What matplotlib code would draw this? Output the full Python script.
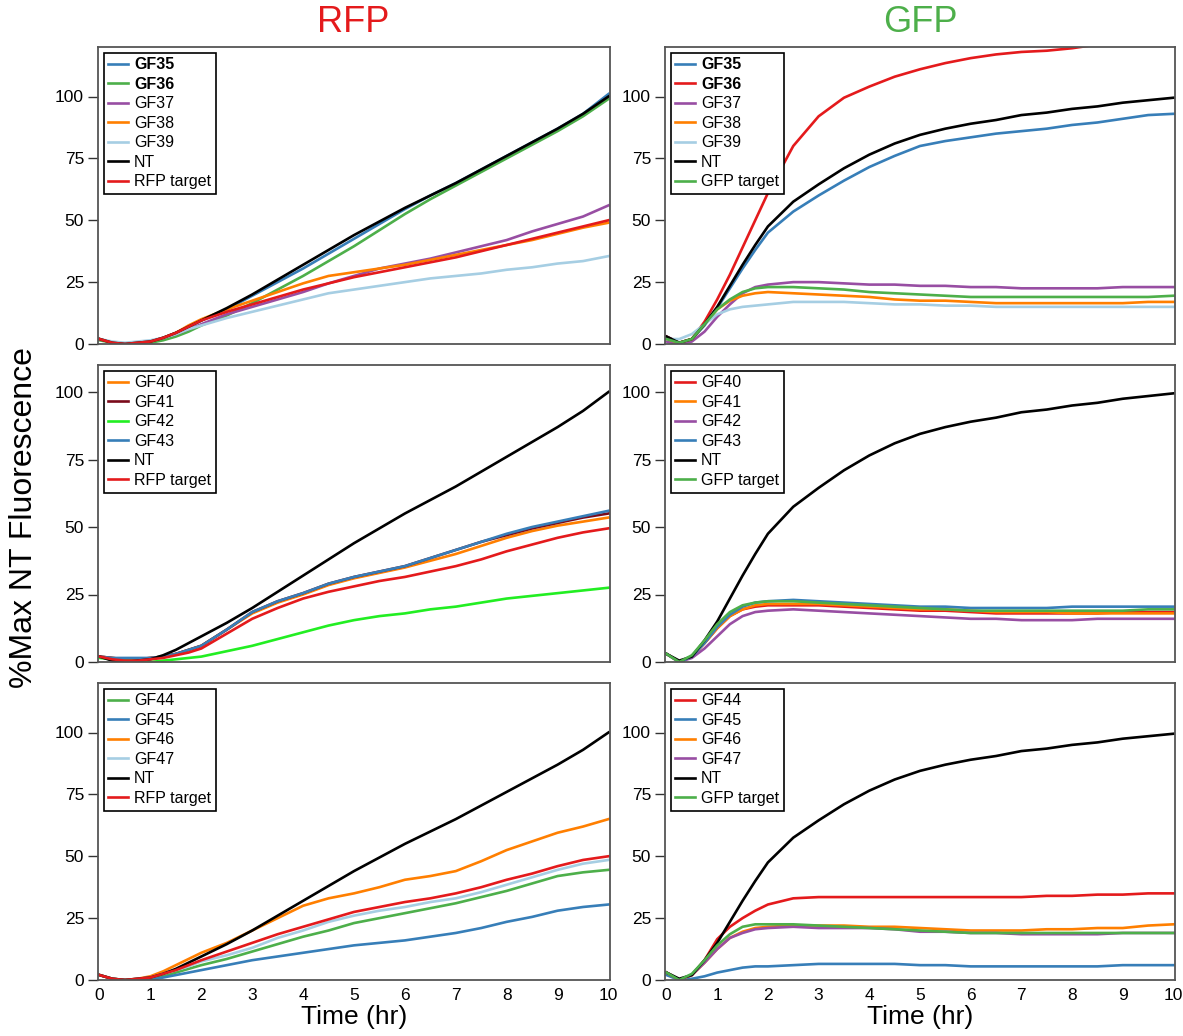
import matplotlib
matplotlib.use("Agg")
import matplotlib.pyplot as plt

plt.rcParams['font.family'] = ['Liberation Sans', 'DejaVu Sans']

# ---------------- data ----------------
t = [0, 0.25, 0.5, 0.75, 1, 1.25, 1.5, 1.75, 2, 2.5, 3, 3.5, 4, 4.5, 5,
     5.5, 6, 6.5, 7, 7.5, 8, 8.5, 9, 9.5, 10]

nt_rfp = [2, 0.5, 0, 0.5, 1, 2.5, 4.5, 7, 9.5, 14.5, 20, 26, 32, 38, 44, 49.5, 55, 60, 65, 70.5, 76, 81.5, 87, 93, 100]
nt_gfp = [3, 0.5, 2, 8, 15, 23.5, 32, 40, 47.5, 57.5, 64.5, 71, 76.5, 81, 84.5, 87, 89, 90.5, 92.5, 93.5, 95, 96, 97.5, 98.5, 99.5]

# row 1 RFP
r1_gf35 = [2, 0.5, 0, 0.5, 1, 2.5, 4.5, 7, 9.5, 14, 19.5, 25, 30.5, 36.5, 42.5, 48.5, 54.5, 60, 65, 70.5, 76, 81.5, 87, 93, 101]
r1_gf36 = [1.5, 0.5, 0, 0, 0.5, 1.5, 3, 5, 7.5, 11.5, 16.5, 22, 27.5, 33.5, 39.5, 46, 52.5, 58.5, 64, 69.5, 75, 80.5, 86, 92, 99]
r1_gf37 = [2, 0.5, 0, 0.5, 1, 2.5, 4, 6, 8, 12, 15, 18, 21, 24.5, 27.5, 30.5, 32.5, 34.5, 37, 39.5, 42, 45.5, 48.5, 51.5, 56]
r1_gf38 = [2, 0.5, 0, 0.5, 1, 2.5, 4.5, 7.5, 10, 14, 17.5, 21, 24.5, 27.5, 29, 30.5, 32, 34, 36, 38, 40, 42, 44.5, 47, 49]
r1_gf39 = [2, 1, 0.5, 1, 1.5, 2.5, 4, 6, 7.5, 10.5, 13, 15.5, 18, 20.5, 22, 23.5, 25, 26.5, 27.5, 28.5, 30, 31, 32.5, 33.5, 35.5]
r1_rfp_target = [2, 0.5, 0, 0.5, 1, 2.5, 4.5, 7, 9.5, 13, 16, 19, 22, 24.5, 27, 29, 31, 33, 35, 37.5, 40, 42.5, 45, 47.5, 50]

# row 1 GFP
g1_gf35 = [3, 0.5, 2, 7.5, 14.5, 22.5, 30.5, 38, 45, 53.5, 60, 66, 71.5, 76, 80, 82, 83.5, 85, 86, 87, 88.5, 89.5, 91, 92.5, 93]
g1_gf36 = [3, 0.5, 2, 9, 18, 28, 39, 50, 61, 80, 92, 99.5, 104, 108, 111, 113.5, 115.5, 117, 118, 118.5, 119.5, 121, 122, 123, 124]
g1_gf37 = [1, 0, 1, 5, 11, 16, 20.5, 23, 24, 25, 25, 24.5, 24, 24, 23.5, 23.5, 23, 23, 22.5, 22.5, 22.5, 22.5, 23, 23, 23]
g1_gf38 = [2, 0.5, 2, 8, 14, 17.5, 19.5, 20.5, 21, 20.5, 20, 19.5, 19, 18, 17.5, 17.5, 17, 16.5, 16.5, 16.5, 16.5, 16.5, 16.5, 17, 17]
g1_gf39 = [2, 2, 4, 8, 12, 14, 15, 15.5, 16, 17, 17, 17, 16.5, 16, 16, 15.5, 15.5, 15, 15, 15, 15, 15, 15, 15, 15]
g1_gfp_target = [2, 0.5, 2, 8, 14, 18, 21, 22.5, 23, 23, 22.5, 22, 21, 20.5, 20, 19.5, 19, 19, 19, 19, 19, 19, 19, 19, 19.5]

# row 2 RFP
r2_gf40 = [2, 1.5, 1, 1, 1.5, 2, 3, 4.5, 6, 12, 18, 22, 25, 28.5, 31, 33, 35, 37.5, 40, 43, 46, 48.5, 50.5, 52, 53.5]
r2_gf41 = [2, 1.5, 1, 1, 1.5, 2, 3, 4.5, 6, 12, 18.5, 22.5, 25.5, 29, 31.5, 33.5, 35.5, 38.5, 41.5, 44.5, 47, 49.5, 51.5, 53.5, 55]
r2_gf42 = [1.5, 1, 0.5, 0.5, 0, 0.5, 1, 1.5, 2, 4, 6, 8.5, 11, 13.5, 15.5, 17, 18, 19.5, 20.5, 22, 23.5, 24.5, 25.5, 26.5, 27.5]
r2_gf43 = [2, 1.5, 1.5, 1.5, 1.5, 2, 3, 4.5, 6, 12, 18.5, 22.5, 25.5, 29, 31.5, 33.5, 35.5, 38.5, 41.5, 44.5, 47.5, 50, 52, 54, 56]
r2_rfp_target = [2, 1, 0.5, 0.5, 1, 1.5, 2.5, 3.5, 5, 10.5, 16, 20, 23.5, 26, 28, 30, 31.5, 33.5, 35.5, 38, 41, 43.5, 46, 48, 49.5]

# row 2 GFP
g2_gf40 = [3, 0, 2, 7, 12.5, 17, 19.5, 20.5, 21, 21, 21, 20.5, 20, 19.5, 19, 19, 18.5, 18, 18, 18, 18, 18, 18.5, 18.5, 18.5]
g2_gf41 = [3, 0, 2, 7, 12.5, 17, 19.5, 21, 21.5, 21.5, 21.5, 21, 20.5, 20, 19.5, 19.5, 19, 18.5, 18.5, 18.5, 18, 18, 18, 18, 18]
g2_gf42 = [3, 0, 1.5, 5, 9.5, 14, 17, 18.5, 19, 19.5, 19, 18.5, 18, 17.5, 17, 16.5, 16, 16, 15.5, 15.5, 15.5, 16, 16, 16, 16]
g2_gf43 = [3, 0, 2, 7, 13, 17.5, 20.5, 22, 22.5, 23, 22.5, 22, 21.5, 21, 20.5, 20.5, 20, 20, 20, 20, 20.5, 20.5, 20.5, 20.5, 20.5]
g2_gfp_target = [3, 0, 2.5, 8, 14, 18.5, 21, 22, 22.5, 22.5, 22, 21.5, 21, 20.5, 20, 19.5, 19, 19, 19, 19, 19, 19, 19, 19.5, 19.5]

# row 3 RFP
r3_gf44 = [2, 0.5, 0, 0, 0.5, 1.5, 3, 4.5, 6, 8.5, 11.5, 14.5, 17.5, 20, 23, 25, 27, 29, 31, 33.5, 36, 39, 42, 43.5, 44.5]
r3_gf45 = [2, 0.5, 0, 0, 0, 1, 2, 3, 4, 6, 8, 9.5, 11, 12.5, 14, 15, 16, 17.5, 19, 21, 23.5, 25.5, 28, 29.5, 30.5]
r3_gf46 = [2, 0.5, 0, 0.5, 1.5, 3.5, 6, 8.5, 11, 15, 20, 25, 30, 33, 35, 37.5, 40.5, 42, 44, 48, 52.5, 56, 59.5, 62, 65]
r3_gf47 = [2, 0.5, 0, 0.5, 1, 2.5, 4, 5.5, 7.5, 10, 13, 17, 20, 23.5, 26, 28, 29.5, 31.5, 33, 35.5, 38.5, 41.5, 44.5, 47, 48.5]
r3_rfp_target = [2, 0.5, 0, 0.5, 1, 2.5, 4, 6, 8, 11.5, 15, 18.5, 21.5, 24.5, 27.5, 29.5, 31.5, 33, 35, 37.5, 40.5, 43, 46, 48.5, 50]

# row 3 GFP
g3_gf44 = [3, 0, 2, 8, 16.5, 21.5, 25, 28, 30.5, 33, 33.5, 33.5, 33.5, 33.5, 33.5, 33.5, 33.5, 33.5, 33.5, 34, 34, 34.5, 34.5, 35, 35]
g3_gf45 = [2, 0, 0.5, 1.5, 3, 4, 5, 5.5, 5.5, 6, 6.5, 6.5, 6.5, 6.5, 6, 6, 5.5, 5.5, 5.5, 5.5, 5.5, 5.5, 6, 6, 6]
g3_gf46 = [3, 0, 2, 7, 12.5, 17, 19.5, 21, 21.5, 22, 22, 22, 21.5, 21.5, 21, 20.5, 20, 20, 20, 20.5, 20.5, 21, 21, 22, 22.5]
g3_gf47 = [3, 0, 2, 7, 12.5, 17, 19, 20.5, 21, 21.5, 21, 21, 21, 20.5, 19.5, 19.5, 19, 19, 18.5, 18.5, 18.5, 18.5, 19, 19, 19]
g3_gfp_target = [3, 0, 2.5, 8, 14, 18.5, 21.5, 22.5, 22.5, 22.5, 22, 21.5, 21, 20.5, 20, 19.5, 19, 19, 19, 19, 19, 19, 19, 19, 19]

yticks = [0, 25, 50, 75, 100]
xticks = [0, 1, 2, 3, 4, 5, 6, 7, 8, 9, 10]
ylims = [120, 110, 120]

BLUE = '#377eb8'; GREEN = '#4daf4a'; PURPLE = '#984ea3'; ORANGE = '#ff7f00'
LBLUE = '#a6cee3'; RED = '#e41a1c'; BLACK = '#000000'; DRED = '#7a0a1a'; LGREEN = '#22ee22'

panels = [
    [  # row 1
        [('GF35', r1_gf35, BLUE), ('GF36', r1_gf36, GREEN), ('GF37', r1_gf37, PURPLE),
         ('GF38', r1_gf38, ORANGE), ('GF39', r1_gf39, LBLUE), ('NT', nt_rfp, BLACK),
         ('RFP target', r1_rfp_target, RED)],
        [('GF35', g1_gf35, BLUE), ('GF36', g1_gf36, RED), ('GF37', g1_gf37, PURPLE),
         ('GF38', g1_gf38, ORANGE), ('GF39', g1_gf39, LBLUE), ('NT', nt_gfp, BLACK),
         ('GFP target', g1_gfp_target, GREEN)],
    ],
    [  # row 2
        [('GF40', r2_gf40, ORANGE), ('GF41', r2_gf41, DRED), ('GF42', r2_gf42, LGREEN),
         ('GF43', r2_gf43, BLUE), ('NT', nt_rfp, BLACK), ('RFP target', r2_rfp_target, RED)],
        [('GF40', g2_gf40, RED), ('GF41', g2_gf41, ORANGE), ('GF42', g2_gf42, PURPLE),
         ('GF43', g2_gf43, BLUE), ('NT', nt_gfp, BLACK), ('GFP target', g2_gfp_target, GREEN)],
    ],
    [  # row 3
        [('GF44', r3_gf44, GREEN), ('GF45', r3_gf45, BLUE), ('GF46', r3_gf46, ORANGE),
         ('GF47', r3_gf47, LBLUE), ('NT', nt_rfp, BLACK), ('RFP target', r3_rfp_target, RED)],
        [('GF44', g3_gf44, RED), ('GF45', g3_gf45, BLUE), ('GF46', g3_gf46, ORANGE),
         ('GF47', g3_gf47, PURPLE), ('NT', nt_gfp, BLACK), ('GFP target', g3_gfp_target, GREEN)],
    ],
]

W, H = 1183, 1036
fig = plt.figure(figsize=(W / 100, H / 100), dpi=100)

col_x = [98, 665]
col_w = [512, 510]
row_top = [47, 365, 683]
ax_h = 297

for r in range(3):
    for c in range(2):
        ax = fig.add_axes([col_x[c] / W, 1 - (row_top[r] + ax_h) / H, col_w[c] / W, ax_h / H])
        for name, vals, col in panels[r][c]:
            ax.plot(t, vals, color=col, lw=1.9, label=name, solid_joinstyle='round')
        ax.set_xlim(-0.03, 10.03)
        ax.set_ylim(0, ylims[r])
        ax.set_yticks(yticks)
        ax.set_xticks(xticks)
        ax.tick_params(axis='y', direction='out', length=7, width=1.0, labelsize=12.5,
                       color='#333333', pad=3)
        ax.tick_params(axis='x', length=0, labelsize=12.5, pad=6)
        if r < 2:
            ax.set_xticklabels([])
        else:
            ax.set_xlabel('Time (hr)', fontsize=19, labelpad=1)
        for s in ax.spines.values():
            s.set_color('#555555')
            s.set_linewidth(1.3)
        leg = ax.legend(loc='upper left', fontsize=11.5, frameon=True, fancybox=False,
                        edgecolor='black', framealpha=1, handlelength=1.2,
                        handletextpad=0.4, labelspacing=0.28, borderpad=0.3,
                        borderaxespad=0.35)
        leg.get_frame().set_linewidth(1.2)
        if r == 0:
            for txt in leg.get_texts()[:2]:
                txt.set_fontweight('bold')

fig.text(353 / W, 1 - 22 / H, 'RFP', color=RED, fontsize=26, ha='center', va='center')
fig.text(920 / W, 1 - 22 / H, 'GFP', color=GREEN, fontsize=26, ha='center', va='center')
fig.text(24 / W, 0.5, '%Max NT Fluorescence', rotation=90, fontsize=23, ha='center', va='center')

fig.savefig('out.png', dpi=100)
